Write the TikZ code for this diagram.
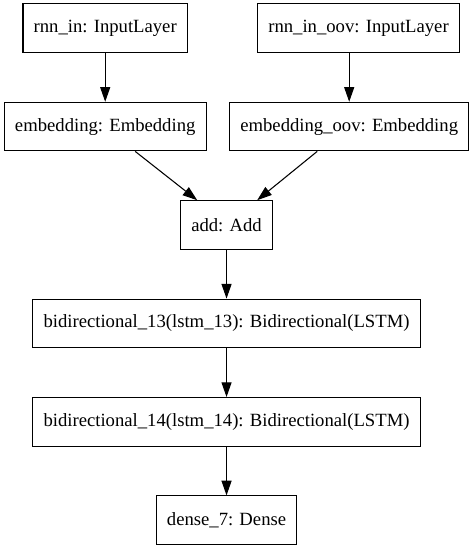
\documentclass[tikz,border=0pt]{standalone}
\usepackage{fontspec}
\setmainfont{Liberation Serif}
\usepackage{tikz}
\usetikzlibrary{positioning,arrows.meta}

\begin{document}
\begin{tikzpicture}[
		every node/.append style={font=\fontsize{14}{16}\selectfont}
		,layer/.style={rectangle, draw, line width=0.8pt, minimum height=36.4pt, inner xsep=8pt}
		,link/.style={line width=0.8pt, -{Triangle[length=11pt,width=7.5pt]}}
		,node distance=36.6pt
	]
		\useasboundingbox (0,0) rectangle (354pt,-410.25pt);
		\node [layer] (add) at (169.9pt,-168.75pt) {add: Add};
		\node [layer, above=of add, xshift=-91pt] (emb) {embedding: Embedding};
		\node [layer, above=of add, xshift=92pt] (embOov) {embedding\_oov: Embedding};
		\node [layer, above=of emb] (rnnIn) {rnn\_in: InputLayer};
		\node [layer, above=of embOov, xshift=7pt] (rnnInOov) {rnn\_in\_oov: InputLayer};
		\node [layer, below=of add] (biA) {bidirectional\_13(lstm\_13): Bidirectional(LSTM)};
		\node [layer, below=of biA] (biB) {bidirectional\_14(lstm\_14): Bidirectional(LSTM)};
		\node [layer, below=of biB] (dense) {dense\_7: Dense};

		\draw [link] (rnnIn) -- (emb);
		\draw [link] (rnnInOov.south -| embOov.north) -- (embOov.north);
		\draw [link] ([xshift=22.5pt]emb.south) -- ([xshift=-22pt]add.north);
		\draw [link] ([xshift=-24pt]embOov.south) -- ([xshift=23pt]add.north);
		\draw [link] (add) -- (biA);
		\draw [link] (biA) -- (biB);
		\draw [link] (biB) -- (dense);
	\end{tikzpicture}
\end{document}
